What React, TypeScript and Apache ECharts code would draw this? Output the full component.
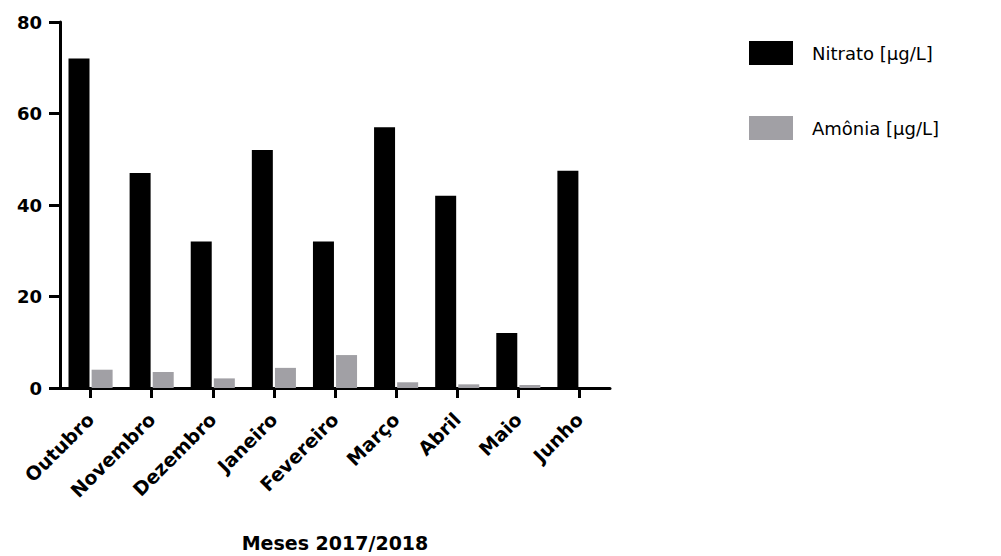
import React, { useEffect, useRef } from "react";
import * as echarts from "echarts";

const months = ["Outubro", "Novembro", "Dezembro", "Janeiro", "Fevereiro", "Março", "Abril", "Maio", "Junho"];
const nitrato = [72, 47, 32, 52, 32, 57, 42, 12, 47.5];
const amonia = [4, 3.5, 2.1, 4.4, 7.2, 1.25, 0.8, 0.65, 0];
const seriesNames = ["Nitrato [µg/L]", "Amônia [µg/L]"];
const xTitle = "Meses 2017/2018";

const FONT = "'DejaVu Sans', 'Liberation Sans', Arial, sans-serif";

export default function App() {
  const ref = useRef<HTMLDivElement>(null);

  useEffect(() => {
    if (!ref.current) return;
    const chart = echarts.init(ref.current, undefined, { renderer: "svg" });
    chart.setOption({
      animation: false,
      backgroundColor: "#ffffff",
      textStyle: { fontFamily: FONT },
      grid: { left: 60, right: 391, top: 22, bottom: 168, containLabel: false },
      legend: {
        orient: "vertical",
        left: 749,
        top: 41,
        padding: 0,
        itemWidth: 44,
        itemHeight: 24,
        itemGap: 51,
        icon: "rect",
        data: seriesNames,
        textStyle: { fontFamily: FONT, fontSize: 18, color: "#000", padding: [0, 0, 0, 14] },
      },
      xAxis: {
        type: "category",
        data: months,
        axisLine: { show: true, lineStyle: { color: "#000", width: 3 } },
        axisTick: { show: true, alignWithLabel: true, length: 10, lineStyle: { color: "#000", width: 3 } },
        axisLabel: {
          rotate: 45,
          interval: 0,
          margin: 28,
          fontFamily: FONT,
          fontSize: 19,
          fontWeight: "bold",
          color: "#000",
        },
        splitLine: { show: false },
      },
      yAxis: {
        type: "value",
        min: 0,
        max: 80,
        interval: 20,
        axisLine: { show: true, lineStyle: { color: "#000", width: 3 } },
        axisTick: { show: true, length: 11, lineStyle: { color: "#000", width: 3 } },
        axisLabel: {
          margin: 18,
          fontFamily: FONT,
          fontSize: 18,
          fontWeight: "bold",
          color: "#000",
        },
        splitLine: { show: false },
      },
      graphic: [
        {
          type: "text",
          x: 335,
          y: 543,
          style: {
            text: xTitle,
            fontFamily: FONT,
            fontSize: 19,
            fontWeight: "bold",
            fill: "#000",
            textAlign: "center",
            textVerticalAlign: "middle",
          },
        },
      ],
      series: [
        {
          name: seriesNames[0],
          type: "bar",
          data: nitrato,
          barWidth: 21,
          barGap: "10%",
          itemStyle: { color: "#000000" },
        },
        {
          name: seriesNames[1],
          type: "bar",
          data: amonia,
          barWidth: 21,
          itemStyle: { color: "#a1a0a5" },
        },
      ],
    });
    return () => chart.dispose();
  }, []);

  return (
    <div
      ref={ref}
      style={{ position: "absolute", left: 0, top: 0, width: 1001, height: 556 }}
    />
  );
}
